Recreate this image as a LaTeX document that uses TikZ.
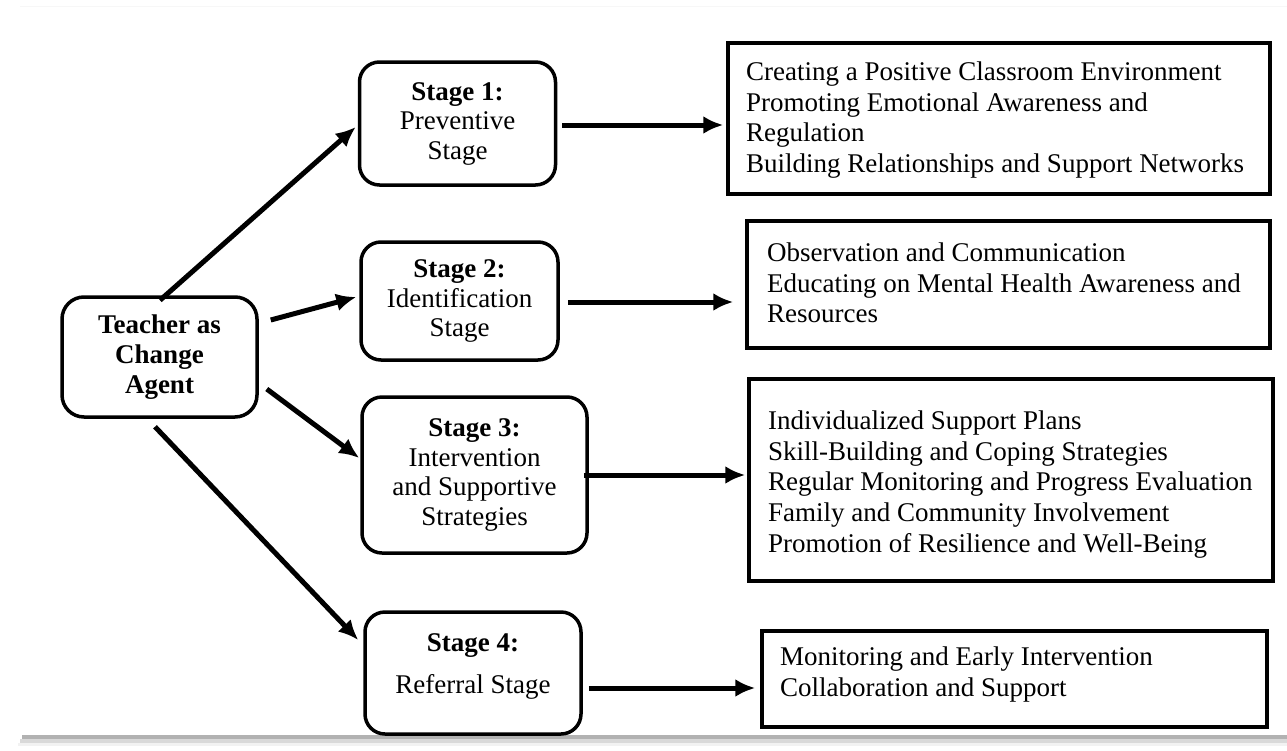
\documentclass[tikz,border=0pt]{standalone}
\usepackage{fontspec}
\setmainfont{Liberation Serif}
\usetikzlibrary{arrows.meta,calc}
\begin{document}
\begin{tikzpicture}[x=1pt,y=-1pt,
  rbox/.style={draw, line width=3.5pt, rounded corners=20pt, inner sep=0pt, align=center, font=\fontsize{27}{29.5}\selectfont},
  stagetext/.style={inner sep=0pt, align=center, font=\fontsize{27}{29.5}\selectfont},
  sqbox/.style={draw, line width=3.5pt, inner sep=0pt},
  listtext/.style={anchor=north west, inner sep=0pt, align=left, font=\fontsize{27}{30.75}\selectfont},
  arr/.style={line width=5pt, -{Latex[length=20pt,width=18pt]}},
]
\useasboundingbox (0,0) rectangle (1287,750);
\fill[white] (0,0) rectangle (1287,750);
% page edge decorations
\draw[gray!6, line width=1pt] (20,6) -- (1287,6);
\fill[gray!60] (22,735) rectangle (1287,739);
\fill[gray!30] (20,739) rectangle (1287,743);
\fill[gray!10] (18,743) rectangle (1287,746);

% left node
\node[rbox, minimum width=195pt, minimum height=120pt, rounded corners=22pt,
      font=\bfseries\fontsize{27}{30}\selectfont] (T) at (159.5,357) {Teacher as\\Change\\Agent};

% stage boxes
\node[rbox, minimum width=196pt, minimum height=123pt] (S1) at (457.5,123.5) {\textbf{Stage 1:}\\Preventive\\Stage};
\node[rbox, minimum width=197pt, minimum height=118pt] (S2) at (459.5,301) {\textbf{Stage 2:}\\Identification\\Stage};
\node[rbox, minimum width=225pt, minimum height=156pt] (S3) at (474.5,475) {\textbf{Stage 3:}\\Intervention\\and Supportive\\Strategies};
\node[rbox, minimum width=216pt, minimum height=122pt] (S4) at (473,673) {};
\node[stagetext] (S4t) at ([yshift=7pt]S4.center) {\textbf{Stage 4:}\\[12.5pt]Referral Stage};

% right boxes
\node[sqbox, minimum width=542pt, minimum height=151pt] (B1) at (999,118.5) {};
\node[listtext] (B1t) at (746,61.5) {Creating a Positive Classroom Environment\\Promoting Emotional Awareness and\\Regulation\\Building Relationships and Support Networks};

\node[sqbox, minimum width=523pt, minimum height=127pt] (B2) at (1008.5,284.5) {};
\node[listtext] (B2t) at (767,242.5) {Observation and Communication\\Educating on Mental Health Awareness and\\Resources};

\node[sqbox, minimum width=524pt, minimum height=202pt] (B3) at (1011,480) {};
\node[listtext] (B3t) at (768,410.5) {Individualized Support Plans\\Skill-Building and Coping Strategies\\Regular Monitoring and Progress Evaluation\\Family and Community Involvement\\Promotion of Resilience and Well-Being};

\node[sqbox, minimum width=505pt, minimum height=96pt] (B4) at (1014.5,679) {};
\node[listtext] (B4t) at (780,646.5) {Monitoring and Early Intervention\\Collaboration and Support};

% arrows from teacher
\draw[arr] ($(T.north)+(0.5,5)$) -- ($(S1.west)+(-2,3.5)$);
\draw[arr] ($(T.east)+(12,-37)$) -- ($(S2.west)+(-3,-4)$);
\draw[arr] ($(T.east)+(8,32)$) -- ($(S3.west)+(-1,-17)$);
\draw[arr] ($(T.south)+(-4.5,8)$) -- ($(S4.west)+(-5,-33)$);

% arrows to right boxes
\draw[arr] ($(S1.east)+(5,1.5)$) -- ($(B1.west)+(-3,6.5)$);
\draw[arr] ($(S2.east)+(8,1)$) -- ($(B2.west)+(-12,17.5)$);
\draw[arr] ($(S3.east)+(-5,0)$) -- ($(B3.west)+(-2,-5)$);
\draw[arr] ($(S4.east)+(6,15)$) -- ($(B4.west)+(-5,9)$);
\end{tikzpicture}
\end{document}
